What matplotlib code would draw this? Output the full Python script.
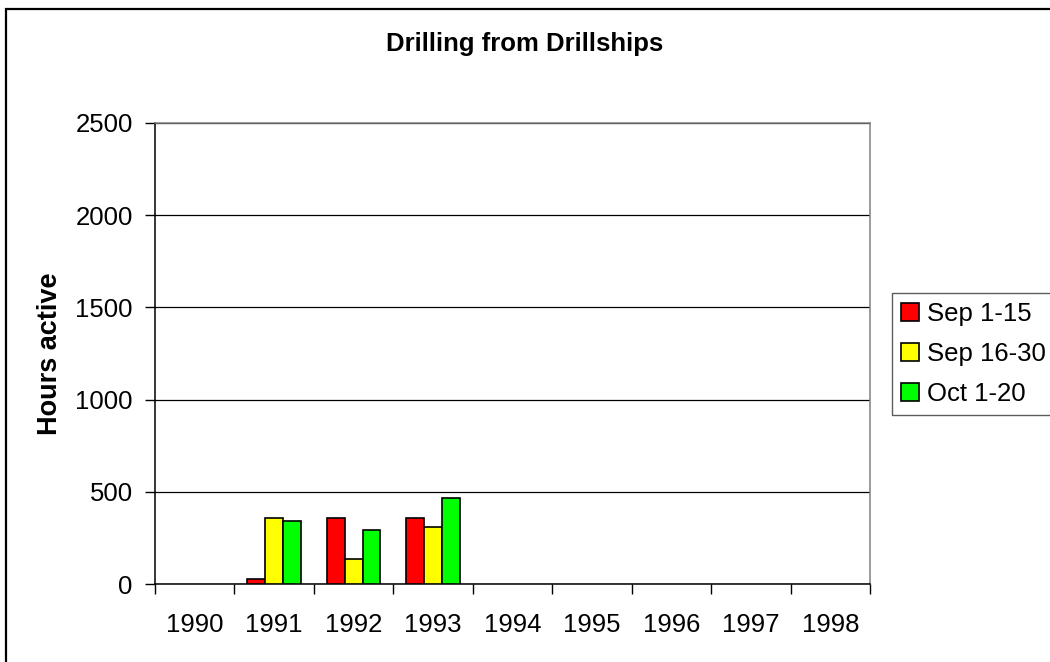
import numpy as np
import matplotlib.pyplot as plt
from matplotlib.patches import Rectangle

plt.rcParams['font.family'] = ['Liberation Sans', 'DejaVu Sans']

years = ['1990', '1991', '1992', '1993', '1994', '1995', '1996', '1997', '1998']
series_names = ['Sep 1-15', 'Sep 16-30', 'Oct 1-20']
sep_1_15 = [0, 27, 360, 360, 0, 0, 0, 0, 0]
sep_16_30 = [0, 360, 133, 307, 0, 0, 0, 0, 0]
oct_1_20 = [0, 344, 291, 464, 0, 0, 0, 0, 0]
colors = ['#FF0000', '#FFFF00', '#00FF00']

fig = plt.figure(figsize=(10.5, 6.62), dpi=100)
# chart frame runs off the right and bottom edges
fig.patches.append(Rectangle((0.0057, -0.02), 1.1, 1.0064, transform=fig.transFigure,
                             fill=False, edgecolor='black', linewidth=1.6))

ax = fig.add_axes([0.1476, 0.1178, 0.681, 0.6964])
x = np.arange(len(years))
width = 0.224
for i, (vals, name, c) in enumerate(zip([sep_1_15, sep_16_30, oct_1_20], series_names, colors)):
    heights = np.array(vals, dtype=float)
    mask = heights > 0
    ax.bar(x[mask] + (i - 1) * width, heights[mask], width, color=c,
           edgecolor='black', linewidth=1.2, label=name, zorder=3)

ax.set_xlim(-0.5, len(years) - 0.5)
ax.set_ylim(0, 2500)
ax.set_yticks(np.arange(0, 2501, 500))
ax.yaxis.grid(True, color='black', linewidth=0.9, zorder=0)
ax.set_xticks(np.arange(-0.5, len(years) + 0.5, 1))
ax.set_xticklabels([])
ax.set_xticks(x, minor=True)
ax.set_xticklabels(years, minor=True)
ax.tick_params(axis='x', which='minor', length=0, pad=21, labelsize=18.5)
ax.tick_params(axis='x', which='major', length=7, color='black', width=1)
ax.tick_params(axis='y', length=7, color='black', width=1, labelsize=18.5, pad=9)
ax.spines['left'].set_color('black')
ax.spines['bottom'].set_color('black')
ax.spines['right'].set_color('#808080')
ax.spines['top'].set_color('#808080')
for s in ax.spines.values():
    s.set_linewidth(1.1)

ax.set_ylabel('Hours active', fontsize=19.5, fontweight='bold', labelpad=9)
fig.text(0.5, 0.934, 'Drilling from Drillships', ha='center', va='center',
         fontsize=18.5, fontweight='bold')

leg = ax.legend(loc='center left', bbox_to_anchor=(0.8495, 0.4653),
                bbox_transform=fig.transFigure, frameon=True,
                fancybox=False, edgecolor='#333333', fontsize=18.5,
                handlelength=0.7, handleheight=0.7, handletextpad=0.3,
                borderpad=0.35, labelspacing=0.62, borderaxespad=0)
leg.get_frame().set_linewidth(1.0)

fig.savefig('out.png', dpi=100)
